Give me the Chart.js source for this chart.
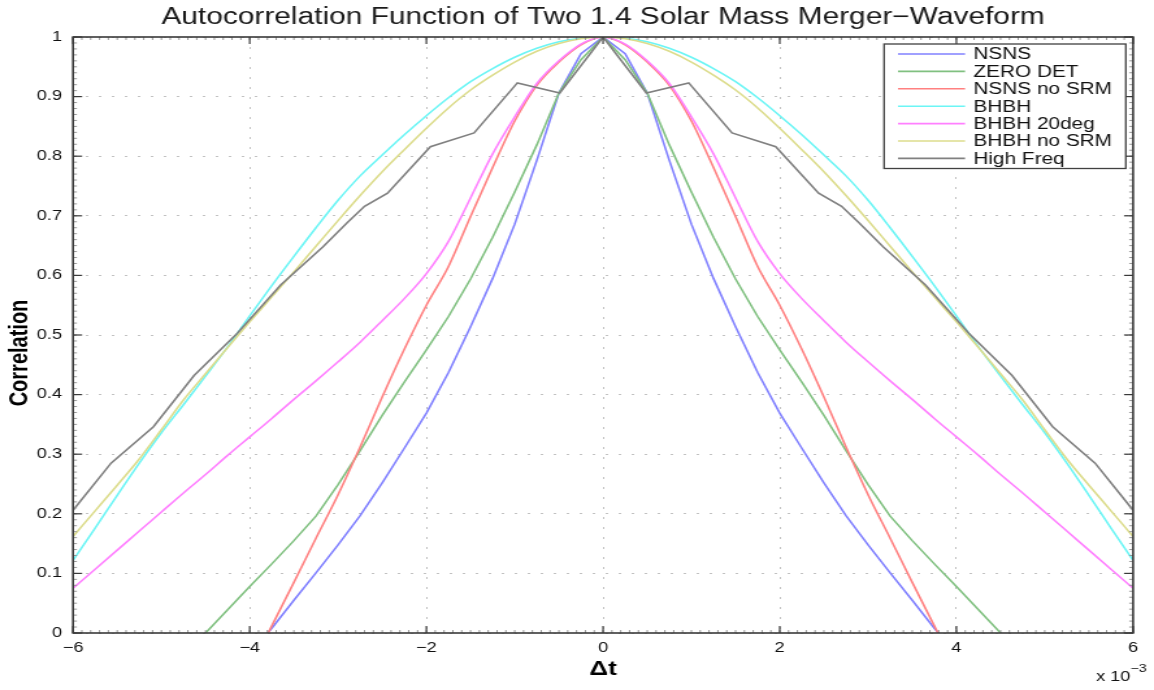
<!DOCTYPE html>
<html>
<head>
<meta charset="utf-8">
<script src="https://cdn.jsdelivr.net/npm/chart.js@4/dist/chart.umd.min.js"></script>
<style>
  html, body { margin: 0; padding: 0; background: #ffffff; }
  #wrap { width: 1154px; height: 690px; overflow: hidden; background: #fff; }
  #c { display: block; transform: scaleX(1.29955); transform-origin: 0 0; }
</style>
</head>
<body>
<div id="wrap"><canvas id="c" width="888" height="690"></canvas></div>
<script>
// ---- data (Δt in units of 1e-3) ----
const xs = [-6,-5.75,-5.5,-5.25,-5,-4.75,-4.5,-4.25,-4,-3.75,-3.5,-3.25,-3,-2.75,-2.5,-2.25,-2,-1.75,-1.5,-1.25,-1,-0.75,-0.5,-0.25,
  0,0.25,0.5,0.75,1,1.25,1.5,1.75,2,2.25,2.5,2.75,3,3.25,3.5,3.75,4,4.25,4.5,4.75,5,5.25,5.5,5.75,6];

const nsns = [-0.12,-0.13,-0.14,-0.14,-0.13,-0.12,-0.1,-0.07,-0.035,0.008,0.055,0.101,0.148,0.197,0.252,0.31,0.369,0.437,0.514,0.595,0.686,0.793,0.906,0.972,
  1,0.972,0.906,0.793,0.686,0.595,0.514,0.437,0.369,0.31,0.252,0.197,0.148,0.101,0.055,0.008,-0.035,-0.07,-0.1,-0.12,-0.13,-0.14,-0.14,-0.13,-0.12];

const zeroDet = [-0.12,-0.11,-0.1,-0.08,-0.06,-0.03,0.0,0.039,0.078,0.116,0.155,0.196,0.249,0.306,0.365,0.421,0.475,0.531,0.594,0.664,0.74,0.819,0.906,0.962,
  1,0.962,0.906,0.819,0.74,0.664,0.594,0.531,0.475,0.421,0.365,0.306,0.249,0.196,0.155,0.116,0.078,0.039,0.0,-0.03,-0.06,-0.08,-0.1,-0.11,-0.12];

const nsnsNoSrm = [-0.2,-0.22,-0.23,-0.23,-0.22,-0.2,-0.17,-0.12,-0.06,0.012,0.085,0.159,0.232,0.312,0.396,0.476,0.55,0.615,0.699,0.781,0.859,0.919,0.958,0.987,
  1,0.987,0.958,0.919,0.859,0.781,0.699,0.615,0.55,0.476,0.396,0.312,0.232,0.159,0.085,0.012,-0.06,-0.12,-0.17,-0.2,-0.22,-0.23,-0.23,-0.22,-0.2];

const bhbh = [0.122,0.176,0.231,0.285,0.336,0.383,0.431,0.48,0.532,0.583,0.632,0.68,0.726,0.767,0.802,0.836,0.868,0.898,0.925,0.947,0.966,0.981,0.992,0.998,
  1,0.998,0.992,0.981,0.966,0.947,0.925,0.898,0.868,0.836,0.802,0.767,0.726,0.68,0.632,0.583,0.532,0.48,0.431,0.383,0.336,0.285,0.231,0.176,0.122];

const bhbh20 = [0.075,0.107,0.139,0.171,0.203,0.235,0.266,0.298,0.329,0.36,0.392,0.423,0.455,0.488,0.524,0.561,0.603,0.657,0.73,0.804,0.866,0.922,0.96,0.988,
  1,0.988,0.96,0.922,0.866,0.804,0.73,0.657,0.603,0.561,0.524,0.488,0.455,0.423,0.392,0.36,0.329,0.298,0.266,0.235,0.203,0.171,0.139,0.107,0.075];

const bhbhNoSrm = [0.162,0.205,0.248,0.292,0.341,0.391,0.435,0.479,0.522,0.564,0.606,0.649,0.692,0.734,0.774,0.811,0.847,0.881,0.911,0.936,0.958,0.976,0.989,0.997,
  1,0.997,0.989,0.976,0.958,0.936,0.911,0.881,0.847,0.811,0.774,0.734,0.692,0.649,0.606,0.564,0.522,0.479,0.435,0.391,0.341,0.292,0.248,0.205,0.162];

const xsHigh = [-6,-5.57,-5.09,-4.63,-4.14,-3.65,-3.17,-2.9,-2.7,-2.44,-1.955,-1.46,-0.97,-0.49,0,0.49,0.97,1.46,1.955,2.44,2.7,2.9,3.17,3.65,4.14,4.63,5.09,5.57,6];
const highFreq = [0.206,0.285,0.346,0.432,0.503,0.584,0.648,0.688,0.716,0.738,0.816,0.839,0.923,0.906,1,0.906,0.923,0.839,0.816,0.738,0.716,0.688,0.648,0.584,0.503,0.432,0.346,0.285,0.206];

const seriesLabels = ['NSNS','ZERO DET','NSNS no SRM','BHBH','BHBH 20deg','BHBH no SRM','High Freq'];
const xTickLabels = ['\u22126','\u22124','\u22122','0','2','4','6'];
const yTickLabels = ['0','0.1','0.2','0.3','0.4','0.5','0.6','0.7','0.8','0.9','1'];

// ---- styling ----
const FONT = "'Liberation Sans', Arial, Helvetica, sans-serif";
const colors = ['#8080ff','#80c080','#ff8080','#6cf5f5','#ff80ff','#dcdc8c','#808080'];
const smoothPeak = [false, false, true, true, true, true, false];

function pts(xArr, yArr) { return xArr.map((x, i) => ({ x: x, y: yArr[i] })); }

const seriesData = [
  pts(xs, nsns), pts(xs, zeroDet), pts(xs, nsnsNoSrm), pts(xs, bhbh),
  pts(xs, bhbh20), pts(xs, bhbhNoSrm), pts(xsHigh, highFreq)
];

const datasets = seriesData.map((d, i) => ({
  label: seriesLabels[i],
  data: d,
  borderColor: colors[i],
  backgroundColor: colors[i],
  borderWidth: 1.6,
  pointRadius: 0,
  tension: 0,
  cubicInterpolationMode: smoothPeak[i] ? 'monotone' : 'default',
  fill: false,
  order: 6 - i
}));

const framePlugin = {
  id: 'frame',
  afterDatasetsDraw(chart) {
    const { ctx, chartArea: a, scales } = chart;
    const x = scales.x, y = scales.y;
    ctx.save();
    const seg = (x1, y1, x2, y2) => { ctx.beginPath(); ctx.moveTo(x1, y1); ctx.lineTo(x2, y2); ctx.stroke(); };
    ctx.lineWidth = 1;
    ctx.strokeStyle = '#999999';
    for (let k = -60; k <= 60; k++) {
      const px = x.getPixelForValue(k / 10);
      seg(px, a.bottom, px, a.bottom - 3);
      seg(px, a.top, px, a.top + 3);
    }
    for (let k = 0; k <= 100; k++) {
      const py = y.getPixelForValue(k / 100);
      seg(a.left, py, a.left + 3, py);
      seg(a.right, py, a.right - 3, py);
    }
    ctx.strokeStyle = '#3a3a3a';
    ctx.lineWidth = 1.2;
    x.ticks.forEach(t => {
      const px = x.getPixelForValue(t.value);
      seg(px, a.bottom, px, a.bottom - 7);
      seg(px, a.top, px, a.top + 7);
    });
    y.ticks.forEach(t => {
      const py = y.getPixelForValue(t.value);
      seg(a.left, py, a.left + 7, py);
      seg(a.right, py, a.right - 7, py);
    });
    ctx.lineWidth = 1.6;
    ctx.strokeRect(a.left, a.top, a.right - a.left, a.bottom - a.top);
    ctx.restore();
  },
  afterDraw(chart) {
    const { ctx, chartArea: a } = chart;
    ctx.save();
    // y axis title
    ctx.fillStyle = '#000';
    ctx.font = 'bold 20px ' + FONT;
    ctx.textAlign = 'center';
    ctx.textBaseline = 'middle';
    ctx.translate(15.6, 353);
    ctx.rotate(-Math.PI / 2);
    ctx.fillText('Correlation', 0, 0);
    ctx.setTransform(1, 0, 0, 1, 0, 0);

    // exponent note
    ctx.fillStyle = '#111';
    ctx.textBaseline = 'alphabetic';
    ctx.textAlign = 'right';
    ctx.font = '14px ' + FONT;
    ctx.fillText('x 10', a.right - 2, 681);
    ctx.textAlign = 'left';
    ctx.font = '11px ' + FONT;
    ctx.fillText('\u22123', a.right - 2, 672);

    // legend
    const bx = 680.3, by = 44, bw = 186, bh = 124.5;
    ctx.fillStyle = '#ffffff';
    ctx.fillRect(bx, by, bw, bh);
    ctx.strokeStyle = '#404040';
    ctx.lineWidth = 1.3;
    ctx.strokeRect(bx, by, bw, bh);
    ctx.font = '16px ' + FONT;
    ctx.textBaseline = 'middle';
    ctx.textAlign = 'left';
    chart.data.datasets.forEach((ds, i) => {
      const ry = 54 + i * 17.4;
      ctx.strokeStyle = ds.borderColor;
      ctx.lineWidth = 1.6;
      ctx.beginPath(); ctx.moveTo(691, ry); ctx.lineTo(742.6, ry); ctx.stroke();
      ctx.fillStyle = '#111';
      ctx.fillText(ds.label, 749, ry + 1);
    });
    ctx.restore();
  }
};

new Chart(document.getElementById('c'), {
  type: 'line',
  data: { datasets: datasets },
  options: {
    responsive: false,
    animation: false,
    devicePixelRatio: 1,
    layout: { padding: { top: 0, right: 16.1, left: 0, bottom: 0 } },
    plugins: {
      legend: { display: false },
      tooltip: { enabled: false },
      title: {
        display: true,
        text: 'Autocorrelation Function of Two 1.4 Solar Mass Merger\u2212Waveform',
        font: { family: FONT, size: 23, weight: 'normal' },
        color: '#1a1a1a',
        fullSize: false,
        padding: { top: 3.4, bottom: 6 }
      }
    },
    scales: {
      x: {
        type: 'linear',
        min: -6, max: 6,
        afterFit: s => { s.height = 57; },
        grid: { color: '#c2c2c2', lineWidth: 1, drawTicks: false },
        border: { display: false, dash: [2, 8] },
        ticks: {
          stepSize: 2, autoSkip: false, maxRotation: 0, padding: 7,
          color: '#111', font: { family: FONT, size: 14 },
          callback: (v, i) => xTickLabels[i]
        },
        title: {
          display: true, text: '\u0394t', color: '#000',
          font: { family: FONT, size: 20, weight: 'bold' },
          padding: { top: 0, bottom: 9 }
        }
      },
      y: {
        type: 'linear',
        min: 0, max: 1,
        afterFit: s => { s.width = 56.2; },
        grid: { color: '#c2c2c2', lineWidth: 1, drawTicks: false },
        border: { display: false, dash: [2, 8] },
        ticks: {
          stepSize: 0.1, autoSkip: false, padding: 8.5,
          color: '#111', font: { family: FONT, size: 14 },
          callback: (v, i) => yTickLabels[i]
        }
      }
    }
  },
  plugins: [framePlugin]
});
</script>
</body>
</html>
